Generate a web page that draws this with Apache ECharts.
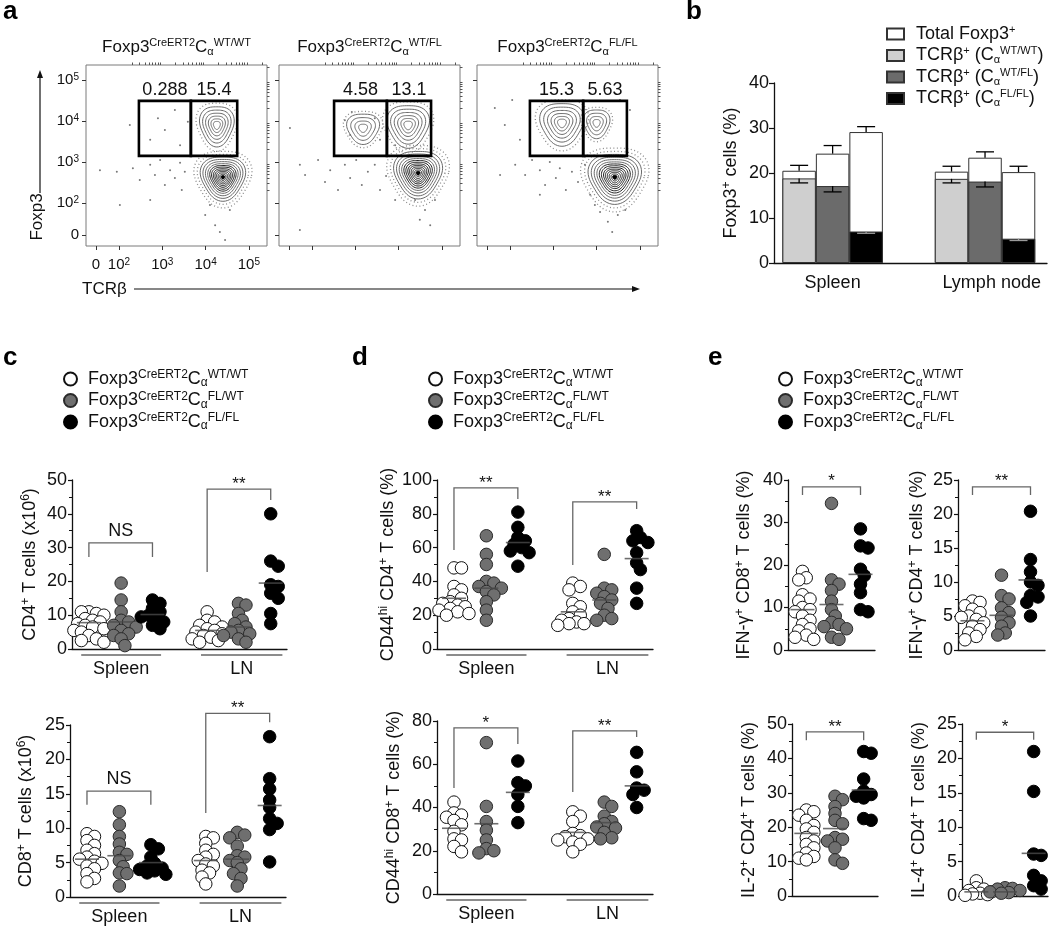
<!DOCTYPE html>
<html><head><meta charset="utf-8">
<script src="https://cdn.jsdelivr.net/npm/echarts@6/dist/echarts.min.js"></script>
<style>html,body{margin:0;padding:0;background:#fff}#c{width:1050px;height:926px}</style>
</head><body><div id="c"></div>
<script>
// ---------------- DATA ----------------
// Panel a (flow cytometry, axes in log-decade units)
const aTitles = ['WT/WT', 'WT/FL', 'FL/FL'];
const aGateValues = [['0.288', '15.4'], ['4.58', '13.1'], ['15.3', '5.63']];
const aGateX = [[2.46, 3.66, 4.73], [2.51, 3.73, 4.75], [2.46, 3.69, 4.70]];
const aGateY = [3.15, 4.49];
const aXTickLabels = ['0', '10{s|2}', '10{s|3}', '10{s|4}', '10{s|5}'];
const aYTickLabels = ['0', '10{s|2}', '10{s|3}', '10{s|4}', '10{s|5}'];
// populations: [centerX, centerY, radiusX, radiusY, ringSet]
const aPopWTWT = [[4.40, 2.63, 0.51, 0.54, 0], [4.26, 3.90, 0.39, 0.49, 1]];
const aPopWTFL = [[4.45, 2.73, 0.55, 0.58, 0], [4.22, 3.90, 0.48, 0.52, 1], [3.18, 3.83, 0.37, 0.37, 2]];
const aPopFLFL = [[4.42, 2.63, 0.60, 0.61, 0], [3.20, 3.95, 0.50, 0.52, 1], [4.00, 3.95, 0.30, 0.35, 2]];
const aEventsWTWT = [[1.56,2.80],[1.95,2.76],[2.32,2.85],[2.48,2.56],[2.72,2.93],[2.83,2.68],[2.95,3.05],[3.06,2.44],[3.18,2.80],[3.29,2.61],[3.41,2.98],[3.45,2.32],[3.52,2.76],[2.25,3.90],[2.72,3.54],[2.90,4.07],[3.06,3.78],[3.29,4.27],[3.41,3.41],[3.59,3.98],[3.99,1.71],[4.22,1.46],[4.33,1.29],[4.45,1.10],[4.10,1.95],[4.56,1.83],[2.72,2.07],[2.02,1.95]];
const aEventsWTFL = [[1.49,3.83],[1.72,2.93],[1.84,2.68],[2.14,3.05],[2.30,2.51],[2.42,2.80],[2.60,2.32],[2.76,2.93],[2.88,2.61],[3.02,3.05],[3.15,2.44],[3.29,2.76],[3.45,2.93],[3.57,2.32],[3.71,2.66],[2.76,4.02],[2.88,3.66],[2.92,4.22],[3.45,4.07],[3.57,3.54],[3.92,3.41],[4.61,1.83],[4.49,1.59],[4.73,1.46],[4.38,2.07],[4.84,2.07],[1.72,1.34],[3.92,2.07]];
const aEventsFLFL = [[1.65,4.32],[1.88,3.90],[2.05,4.51],[2.23,3.54],[2.12,2.93],[2.35,2.68],[2.51,3.05],[2.69,2.80],[2.81,2.44],[2.92,3.00],[3.06,2.61],[3.15,2.85],[3.29,2.32],[3.43,2.76],[3.57,2.51],[3.73,2.93],[3.85,2.20],[2.69,2.20],[4.08,1.78],[4.26,1.54],[4.36,1.29],[4.49,1.71],[3.96,1.95],[4.66,1.83],[1.77,2.68],[4.54,4.51],[4.77,4.27]];

// Panel b
const bCategories = ['Spleen', 'Lymph node'];
const bTotal    = [20.5, 24.3, 29.1, 20.3, 23.4, 20.2];
const bTotalSem = [1.2, 1.8, 1.2, 1.2, 1.3, 1.3];
const bTcr      = [18.8, 17.1, 7.0, 18.7, 18.1, 5.4];
const bTcrSem   = [1.0, 1.3, 0.4, 0.9, 1.2, 0.4];

// Panels c-e (groups: Spleen WT/WT, FL/WT, FL/FL, LN WT/WT, FL/WT, FL/FL)
const GENO = ['WT/WT', 'FL/WT', 'FL/FL'];
const SITES = ['Spleen', 'LN'];
const cCD4 = [
  [11, 10.5, 11, 10, 9, 8.5, 8, 7.5, 7, 6.5, 6, 5.5, 5, 4, 3, 2.5, 2],
  [19.5, 14.5, 11, 8.5, 8, 7, 6.5, 5.5, 4.5, 4, 3, 1],
  [14.5, 13.5, 12, 11, 10, 9.5, 9, 8, 7, 6],
  [11, 8.5, 8, 7, 6.5, 6, 5.5, 5, 4.5, 4, 3.5, 3, 2.5, 2],
  [13.5, 13, 10.5, 8.5, 7.5, 6.5, 5.5, 5, 4.5, 4, 3, 2],
  [40, 26, 24.5, 19, 18.5, 16.5, 15, 10.5, 7.5]];
const cCD4Means = [7.8, 8, 10.2, 5.5, 6.5, 19.5];
const cCD4Brackets = [[0, 2, 31.4, 27.2, 27.2, 'NS'], [3, 5, 47.3, 22.8, 44.1, '**']];
const cCD8 = [
  [9.2, 8.8, 8.2, 7.5, 6.8, 6.3, 5.8, 5.5, 5.2, 4.9, 4.5, 4.1, 3.4, 2.7, 2.2],
  [12.4, 10.5, 8.8, 7.7, 6.5, 6.2, 5.3, 4.4, 3.5, 3.4, 1.6],
  [7.6, 7.0, 5.8, 4.9, 4.5, 4.2, 4.0, 3.8, 3.5, 3.3],
  [8.8, 8.6, 7.8, 6.8, 6.2, 5.8, 5.3, 4.8, 4.5, 3.9, 3.5, 2.9, 1.9],
  [9.4, 9.0, 8.6, 7.4, 6.0, 5.8, 5.3, 5.0, 4.1, 3.4, 2.7, 1.6],
  [23.3, 17.2, 15.7, 14.1, 13.0, 11.4, 10.7, 9.8, 5.1]];
const cCD8Means = [5.5, 6.0, 5.0, 5.3, 5.5, 13.3];
const cCD8Brackets = [[0, 2, 15.4, 13.4, 13.4, 'NS'], [3, 5, 26.7, 12.2, 25.4, '**']];
const dCD4 = [
  [48, 48, 37, 35, 32, 30, 28, 27, 26, 25, 24, 23, 22, 21, 20],
  [67, 56, 50, 40, 39, 37, 36, 34, 32, 28, 23, 17],
  [81, 72, 66, 64, 62, 60, 58, 57, 49],
  [39, 37, 35, 27, 25, 22, 20, 18, 17, 16, 15, 15, 14],
  [56, 36, 35, 33, 31, 29, 27, 24, 20, 18, 17],
  [70, 66, 64, 63, 57, 51, 47, 36, 27]];
const dCD4Means = [30, 36, 63, 22, 29, 53.5];
const dCD4Brackets = [[0, 2, 95.3, 58.6, 88.8, '**'], [3, 5, 87, 49.7, 82.8, '**']];
const dCD8 = [
  [42.5, 37.5, 36.5, 35.5, 34, 32, 29, 25.5, 25, 22, 19.5],
  [70, 40.5, 33.5, 29.5, 25, 21, 20, 19],
  [61.5, 51.5, 50, 46, 40.5, 33],
  [38, 36, 33.5, 28, 27, 26.5, 25.5, 25, 24, 23, 19.5],
  [42.5, 40.5, 36, 33.5, 32.5, 31, 30.5, 28.5, 26, 25.5],
  [65.5, 56.5, 49, 48, 46, 40]];
const dCD8Means = [30.4, 32.5, 47, 28.5, 33, 50];
const dCD8Brackets = [[0, 2, 76.8, 49.0, 69.4, '*'], [3, 5, 75.4, 47.2, 72.6, '**']];
const eIfnCD8 = [
  [18.5, 17, 16.5, 13, 12, 11.5, 10, 9.5, 9, 8, 7, 6, 5, 4.5, 3.5, 3, 2.5],
  [34.5, 16.5, 15.5, 14, 11.5, 9.5, 8, 6.5, 6, 5.5, 5, 3, 2.5],
  [28.5, 24.5, 24, 19, 17.5, 15.5, 13.5, 9.5, 9]];
const eIfnCD8Means = [9.5, 10.7, 17.8];
const eIfnCD8Brackets = [[0, 2, 38.4, 36.5, 36.5, '*']];
const eIfnCD4 = [
  [7.2, 7, 6.5, 6, 5.5, 5, 4.8, 4.5, 4, 3.5, 3, 2.5, 2, 1.5],
  [11, 8, 7.5, 6.2, 5.5, 4.8, 4, 3.5, 2.5, 2.2],
  [20.4, 13.3, 11.5, 10, 9.5, 8, 7.8, 7, 5]];
const eIfnCD4Means = [4.3, 5.1, 10.3];
const eIfnCD4Brackets = [[0, 2, 24.0, 22.8, 22.8, '**']];
const eIl2 = [
  [25, 24.5, 23.5, 22, 20.5, 19.5, 18.5, 17, 16, 15, 14, 12.5, 11.5, 11, 10.5],
  [29, 28, 26, 24, 22, 21, 17, 16.5, 16, 14, 10.5, 9.5],
  [42, 41.5, 34, 30.5, 29.5, 29, 28.5, 22.5, 22]];
const eIl2Means = [18.2, 19.6, 30.8];
const eIl2Brackets = [[0, 2, 47.7, 45.3, 45.3, '**']];
const eIl4 = [
  [2.2, 1.2, 1.0, 0.8, 0.6, 0.5, 0.4, 0.3, 0.2, 0.1],
  [1.2, 1.1, 1.0, 0.8, 0.6, 0.5, 0.4],
  [21, 15.2, 6.1, 5.9, 3, 2.2, 1.5, 1.0]];
const eIl4Means = [0.6, 0.6, 6.2];
const eIl4Brackets = [[0, 2, 23.8, 22.7, 22.7, '*']];

// ---------------- LAYOUT / STYLE ----------------
const FONT = "'Liberation Sans', Arial, Helvetica, sans-serif";
const INK = '#111';
function richSet(sz) {
  return {
    sup: {fontSize: sz, lineHeight: sz, verticalAlign: 'top', fontFamily: FONT, color: INK},
    sub: {fontSize: sz, lineHeight: sz, verticalAlign: 'bottom', fontFamily: FONT, color: INK},
    s: {fontSize: sz, lineHeight: sz, verticalAlign: 'top', fontFamily: FONT, color: INK}
  };
}
const FLOW_LEFT = [86, 279, 477];
const FLOW_TOP = 65, FLOW_SIZE = 181;
const FLOW_XRANGE = [1.238, 5.418], FLOW_YRANGE = [0.951, 5.366];
const FLOW_XTICKS = [1.47, 2, 3, 4, 5];
const FLOW_YTICKS = [1.22, 2, 3, 4, 5];
const RING_SETS = [
  [[1.28,3],[1.13,3],[1,0],[0.88,0],[0.77,0],[0.67,0],[0.58,1],[0.5,1],[0.42,1],[0.35,1],[0.28,1],[0.21,1],[0.14,1],[0.08,2]],
  [[1.2,3],[1,0],[0.82,0],[0.65,0],[0.49,0],[0.34,0],[0.2,0]],
  [[1.2,3],[1,0],[0.75,0],[0.5,0],[0.27,0]]
];
const GENO_STYLE = [
  {color: '#ffffff', borderColor: '#111'},
  {color: '#6f6f6f', borderColor: '#2a2a2a'},
  {color: '#000000', borderColor: '#000'}
];
const SYM = 12.5;
const X6 = [0.55, 1.6, 2.62, 4.4, 5.42, 6.47];
const X3 = [0.5, 1.5, 2.5];
const SITE_SPAN = [[0.3, 2.9], [4.2, 6.85]];
const B_X = [0.75, 1.75, 2.75, 5.3, 6.3, 7.3];
const B_COLORS = ['#cfcfcf', '#6b6b6b', '#000000'];

function minorLog(maxV) {
  const out = [];
  for (let k = 2; k <= 5; k++) for (let m = 2; m <= 9; m++) {
    const v = k + Math.log10(m);
    if (v < maxV) out.push(v);
  }
  return out;
}

const opt = {
  animation: false, backgroundColor: '#fff',
  textStyle: {fontFamily: FONT},
  grid: [], xAxis: [], yAxis: [], series: [], legend: [], graphic: []
};

// ---------- Panel a ----------
const aPops = [aPopWTWT, aPopWTFL, aPopFLFL];
const aEvents = [aEventsWTWT, aEventsWTFL, aEventsFLFL];
function flowLabel(labels, ticks) {
  return v => {
    for (let i = 0; i < ticks.length; i++) if (Math.abs(ticks[i] - v) < 0.01) return labels[i];
    return '';
  };
}
function contourItem(params, api) {
  const c = api.coord([api.value(0), api.value(1)]);
  const s = api.size([api.value(2), api.value(3)]);
  const k = api.value(4), tone = api.value(5);
  const pts = [];
  for (let j = 0; j < 64; j++) {
    const t = j / 64 * Math.PI * 2;
    const r = k * (1 + 0.09 * Math.cos(3 * t + Math.PI / 2));
    pts.push([c[0] + s[0] * r * Math.cos(t), c[1] + s[1] * r * Math.sin(t)]);
  }
  let st;
  if (tone === 2) st = {fill: '#000', stroke: '#000', lineWidth: 1};
  else if (tone === 3) st = {fill: 'none', stroke: '#8a8a8a', lineWidth: 1.3, lineDash: [1, 2.5]};
  else st = {fill: 'none', stroke: tone === 1 ? '#222' : '#6a6a6a', lineWidth: 1};
  return {type: 'polygon', shape: {points: pts}, style: st};
}
for (let i = 0; i < 3; i++) {
  const gi = opt.grid.length;
  opt.grid.push({left: FLOW_LEFT[i], top: FLOW_TOP, width: FLOW_SIZE, height: FLOW_SIZE,
    show: true, borderColor: '#7a7a7a', borderWidth: 1, backgroundColor: 'rgba(0,0,0,0)'});
  const xi = opt.xAxis.length, yi = opt.yAxis.length;
  opt.xAxis.push({type: 'value', gridIndex: gi, min: FLOW_XRANGE[0], max: FLOW_XRANGE[1],
    axisLine: {show: false}, splitLine: {show: false},
    axisTick: {show: true, customValues: FLOW_XTICKS, length: 4, lineStyle: {color: '#333'}},
    axisLabel: {show: i === 0, customValues: FLOW_XTICKS, formatter: flowLabel(aXTickLabels, FLOW_XTICKS),
      fontSize: 15, fontFamily: FONT, color: INK, margin: 11, rich: richSet(10)}});
  opt.xAxis.push({type: 'value', gridIndex: gi, min: FLOW_XRANGE[0], max: FLOW_XRANGE[1],
    axisLine: {show: false}, splitLine: {show: false}, axisLabel: {show: false},
    axisTick: {show: true, customValues: minorLog(FLOW_XRANGE[1]), length: 2.5, lineStyle: {color: '#555'}}});
  opt.yAxis.push({type: 'value', gridIndex: gi, min: FLOW_YRANGE[0], max: FLOW_YRANGE[1],
    axisLine: {show: false}, splitLine: {show: false},
    axisTick: {show: true, customValues: FLOW_YTICKS, length: 4, lineStyle: {color: '#333'}},
    axisLabel: {show: i === 0, customValues: FLOW_YTICKS, formatter: flowLabel(aYTickLabels, FLOW_YTICKS),
      fontSize: 15, fontFamily: FONT, color: INK, margin: 7, rich: richSet(10)}});
  opt.yAxis.push({type: 'value', gridIndex: gi, min: FLOW_YRANGE[0], max: FLOW_YRANGE[1],
    axisLine: {show: false}, splitLine: {show: false}, axisLabel: {show: false},
    axisTick: {show: true, customValues: minorLog(FLOW_YRANGE[1]), length: 2.5, lineStyle: {color: '#555'}}});
  opt.series.push({type: 'scatter', xAxisIndex: xi, yAxisIndex: yi, data: aEvents[i], symbolSize: 2,
    itemStyle: {color: '#555'}, silent: true, z: 1});
  const rings = [];
  aPops[i].forEach(p => RING_SETS[p[4]].forEach(r => rings.push([p[0], p[1], p[2], p[3], r[0], r[1]])));
  opt.series.push({type: 'custom', xAxisIndex: xi, yAxisIndex: yi, data: rings, renderItem: contourItem,
    clip: true, silent: true, z: 2});
  const labels = aGateValues[i];
  const gx = aGateX[i];
  opt.series.push({type: 'custom', xAxisIndex: xi, yAxisIndex: yi, clip: false, silent: true, z: 4,
    data: [[gx[0], gx[1], aGateY[0], aGateY[1]], [gx[1], gx[2], aGateY[0], aGateY[1]]],
    renderItem: (params, api) => {
      const p1 = api.coord([api.value(0), api.value(3)]);
      const p2 = api.coord([api.value(1), api.value(2)]);
      return {type: 'group', children: [
        {type: 'rect', shape: {x: p1[0], y: p1[1], width: p2[0] - p1[0], height: p2[1] - p1[1]},
          style: {fill: 'none', stroke: '#000', lineWidth: 2.6}},
        {type: 'text', style: {x: (p1[0] + p2[0]) / 2, y: p1[1] - 11, text: labels[params.dataIndex],
          align: 'center', verticalAlign: 'middle', fontSize: 18, fontFamily: FONT, fill: INK}}
      ]};
    }});
  opt.graphic.push({type: 'text', x: FLOW_LEFT[i] + FLOW_SIZE / 2, y: 47, silent: true,
    style: {text: 'Foxp3{sup|CreERT2}C{sub|α}{sup|' + aTitles[i] + '}', align: 'center', verticalAlign: 'middle',
      fontSize: 17, lineHeight: 20, fontFamily: FONT, fill: INK, rich: richSet(11)}});
}
opt.graphic.push(
  {type: 'text', x: 37, y: 217, rotation: Math.PI / 2, silent: true,
    style: {text: 'Foxp3', align: 'center', verticalAlign: 'middle', fontSize: 17, fontFamily: FONT, fill: INK}},
  {type: 'line', silent: true, shape: {x1: 40, y1: 193, x2: 40, y2: 76}, style: {stroke: INK, lineWidth: 1.2}},
  {type: 'polygon', silent: true, shape: {points: [[37, 78], [43, 78], [40, 70]]}, style: {fill: INK}},
  {type: 'text', x: 82, y: 289, silent: true,
    style: {text: 'TCRβ', align: 'left', verticalAlign: 'middle', fontSize: 17, fontFamily: FONT, fill: INK}},
  {type: 'line', silent: true, shape: {x1: 134, y1: 289, x2: 634, y2: 289}, style: {stroke: INK, lineWidth: 1.2}},
  {type: 'polygon', silent: true, shape: {points: [[632, 286], [632, 292], [640, 289]]}, style: {fill: INK}}
);

// ---------- Panel b ----------
{
  const gi = opt.grid.length;
  opt.grid.push({left: 774, top: 83, width: 273, height: 180});
  const xi = opt.xAxis.length, yi = opt.yAxis.length;
  opt.xAxis.push({type: 'value', gridIndex: gi, min: 0, max: 8.15, splitLine: {show: false},
    axisLine: {show: true, lineStyle: {color: INK, width: 1.3}}, axisTick: {show: false},
    axisLabel: {customValues: [(B_X[0] + B_X[2]) / 2, (B_X[3] + B_X[5]) / 2 + 0.2],
      formatter: v => (v < 4 ? bCategories[0] : bCategories[1]), fontSize: 18, fontFamily: FONT, color: INK, margin: 11}});
  opt.yAxis.push({type: 'value', gridIndex: gi, min: 0, max: 40, interval: 10, splitLine: {show: false},
    axisLine: {show: true, lineStyle: {color: INK, width: 1.3}},
    axisTick: {show: true, length: 5, lineStyle: {color: INK, width: 1.2}},
    axisLabel: {fontSize: 18, fontFamily: FONT, color: INK, margin: 5},
    name: 'Foxp3{sup|+} cells (%)', nameLocation: 'middle', nameRotate: 90, nameGap: 33,
    nameTextStyle: {fontSize: 18, fontFamily: FONT, color: INK, lineHeight: 20, rich: richSet(12)}});
  opt.series.push({type: 'bar', name: 'bTotal', xAxisIndex: xi, yAxisIndex: yi, barWidth: 33.5, barGap: '-100%',
    data: B_X.map((x, k) => [x, bTotal[k]]), itemStyle: {color: '#fff', borderColor: '#333', borderWidth: 1}, z: 2});
  ['bWTWT', 'bWTFL', 'bFLFL'].forEach((nm, g) => {
    opt.series.push({type: 'bar', name: nm, xAxisIndex: xi, yAxisIndex: yi, barWidth: 33.5, barGap: '-100%',
      data: [[B_X[g], bTcr[g]], [B_X[g + 3], bTcr[g + 3]]],
      itemStyle: {color: B_COLORS[g], borderColor: '#333', borderWidth: 1}, z: 3});
  });
  const err = [];
  B_X.forEach((x, k) => {
    err.push([x, bTotal[k], bTotal[k] + bTotalSem[k], 0]);
    err.push([x, bTcr[k], bTcr[k] - bTcrSem[k], k % 3 === 2 ? 1 : 0]);
  });
  opt.series.push({type: 'custom', xAxisIndex: xi, yAxisIndex: yi, data: err, clip: false, silent: true, z: 5,
    renderItem: (params, api) => {
      const p1 = api.coord([api.value(0), api.value(1)]);
      const p2 = api.coord([api.value(0), api.value(2)]);
      const col = api.value(3) === 1 ? '#9a9a9a' : '#000';
      return {type: 'group', children: [
        {type: 'line', shape: {x1: p1[0], y1: p1[1], x2: p2[0], y2: p2[1]}, style: {stroke: col, lineWidth: 1.3}},
        {type: 'line', shape: {x1: p2[0] - 9, y1: p2[1], x2: p2[0] + 9, y2: p2[1]}, style: {stroke: col, lineWidth: 1.3}}
      ]};
    }});
  const bNames = {
    bTotal: 'Total Foxp3{sup|+}',
    bWTWT: 'TCRβ{sup|+} (C{sub|α}{sup|WT/WT})',
    bWTFL: 'TCRβ{sup|+} (C{sub|α}{sup|WT/FL})',
    bFLFL: 'TCRβ{sup|+} (C{sub|α}{sup|FL/FL})'
  };
  opt.legend.push({left: 881, top: 19, orient: 'vertical', icon: 'rect', itemWidth: 17, itemHeight: 11, itemGap: 1.5,
    selectedMode: false, data: ['bTotal', 'bWTWT', 'bWTFL', 'bFLFL'], formatter: n => bNames[n],
    textStyle: {fontSize: 18, fontFamily: FONT, color: INK, lineHeight: 20, padding: [0, 0, 0, 7], rich: richSet(11)}});
}

// ---------- Panels c, d, e ----------
function swarm(vals, cx, pxX, pxY) {
  const placed = [], out = [];
  const minD = SYM * 0.55;
  vals.forEach(v => {
    const py = v * pxY;
    let best = null, bestScore = -1;
    for (let k = 0; k < 9; k++) {
      const off = (k % 2 === 1 ? 1 : -1) * Math.ceil(k / 2) * SYM * 0.3;
      let dmin = Infinity;
      placed.forEach(p => { dmin = Math.min(dmin, Math.hypot(p[0] - off, p[1] - py)); });
      if (dmin >= minD) { best = off; break; }
      if (dmin > bestScore) { bestScore = dmin; best = off; }
    }
    placed.push([best, py]);
    out.push([cx + best / pxX, v]);
  });
  return out;
}
function addScatter(lay, values, means, brackets, yname, withSites) {
  const gi = opt.grid.length;
  opt.grid.push({left: lay.left, top: lay.top, width: lay.width, height: lay.height});
  const xi = opt.xAxis.length, yi = opt.yAxis.length;
  opt.xAxis.push({type: 'value', gridIndex: gi, min: 0, max: lay.xmax, splitLine: {show: false},
    axisLine: {show: true, onZero: false, lineStyle: {color: INK, width: 1.3}}, axisTick: {show: false}, axisLabel: {show: false}});
  opt.yAxis.push({type: 'value', gridIndex: gi, min: 0, max: lay.ymax, interval: lay.interval,
    splitLine: {show: false}, minorSplitLine: {show: false},
    axisLine: {show: true, lineStyle: {color: INK, width: 1.3}},
    axisTick: {show: true, length: 4, lineStyle: {color: INK, width: 1.2}},
    minorTick: {show: true, splitNumber: 2, length: 3, lineStyle: {color: INK, width: 1}},
    axisLabel: {fontSize: 18, fontFamily: FONT, color: INK, margin: 5},
    name: yname, nameLocation: 'middle', nameRotate: 90, nameGap: lay.nameGap,
    nameTextStyle: {fontSize: 18, fontFamily: FONT, color: INK, lineHeight: 20, rich: richSet(12)}});
  const pxX = lay.width / lay.xmax, pxY = lay.height / lay.ymax;
  for (let g = 0; g < 3; g++) {
    const data = [];
    values.forEach((vals, k) => { if (k % 3 === g) swarm(vals, lay.xpos[k], pxX, pxY).forEach(d => data.push(d)); });
    opt.series.push({type: 'scatter', name: GENO[g], xAxisIndex: xi, yAxisIndex: yi, data, symbol: 'circle',
      symbolSize: SYM, itemStyle: Object.assign({borderWidth: 1, opacity: 1}, GENO_STYLE[g]), z: 3, silent: true});
  }
  opt.series.push({type: 'scatter', xAxisIndex: xi, yAxisIndex: yi, data: means.map((m, k) => [lay.xpos[k], m]),
    symbol: 'rect', symbolSize: [24, 1.6], itemStyle: {color: '#4a4a4a'}, z: 5, silent: true});
  opt.series.push({type: 'custom', xAxisIndex: xi, yAxisIndex: yi, clip: false, silent: true, z: 6,
    data: brackets.map(b => [lay.xpos[b[0]], b[2], lay.xpos[b[1]], b[3], b[4]]),
    renderItem: (params, api) => {
      const lab = brackets[params.dataIndex][5];
      const x1 = api.value(0), yt = api.value(1), x2 = api.value(2);
      const pL = api.coord([x1, api.value(3)]), pT1 = api.coord([x1, yt]);
      const pT2 = api.coord([x2, yt]), pR = api.coord([x2, api.value(4)]);
      const ns = lab === 'NS';
      return {type: 'group', children: [
        {type: 'polyline', shape: {points: [pL, pT1, pT2, pR]}, style: {stroke: '#666', lineWidth: 1.3, fill: 'none'}},
        {type: 'text', style: {x: (pT1[0] + pT2[0]) / 2, y: pT1[1] - (ns ? 12 : 5), text: lab, align: 'center',
          verticalAlign: 'middle', fontSize: ns ? 18 : 17, fontFamily: FONT, fill: INK}}
      ]};
    }});
  if (withSites) {
    opt.series.push({type: 'custom', xAxisIndex: xi, yAxisIndex: yi, clip: false, silent: true, z: 6,
      data: SITE_SPAN.map(s => [s[0], 0, s[1]]),
      renderItem: (params, api) => {
        const p1 = api.coord([api.value(0), 0]), p2 = api.coord([api.value(2), 0]);
        return {type: 'group', children: [
          {type: 'line', shape: {x1: p1[0], y1: p1[1] + 6, x2: p2[0], y2: p2[1] + 6}, style: {stroke: '#666', lineWidth: 1.3}},
          {type: 'text', style: {x: (p1[0] + p2[0]) / 2, y: p1[1] + 20, text: SITES[params.dataIndex], align: 'center',
            verticalAlign: 'middle', fontSize: 18, fontFamily: FONT, fill: INK}}
        ]};
      }});
  }
}
addScatter({left: 72, top: 480, width: 215, height: 169, ymax: 50, interval: 10, xmax: 7, xpos: X6, nameGap: 32},
  cCD4, cCD4Means, cCD4Brackets, 'CD4{sup|+} T cells (x10{sup|6})', true);
addScatter({left: 70, top: 725, width: 216, height: 172, ymax: 25, interval: 5, xmax: 7, xpos: X6, nameGap: 34},
  cCD8, cCD8Means, cCD8Brackets, 'CD8{sup|+} T cells (x10{sup|6})', true);
addScatter({left: 437, top: 480, width: 216, height: 169, ymax: 100, interval: 20, xmax: 7, xpos: X6, nameGap: 33},
  dCD4, dCD4Means, dCD4Brackets, 'CD44{sup|hi} CD4{sup|+} T cells (%)', true);
addScatter({left: 437, top: 721, width: 216, height: 173, ymax: 80, interval: 20, xmax: 7, xpos: X6, nameGap: 33},
  dCD8, dCD8Means, dCD8Brackets, 'CD44{sup|hi} CD8{sup|+} T cells (%)', true);
addScatter({left: 788, top: 480, width: 87, height: 170, ymax: 40, interval: 10, xmax: 3, xpos: X3, nameGap: 34},
  eIfnCD8, eIfnCD8Means, eIfnCD8Brackets, 'IFN-γ{sup|+} CD8{sup|+} T cells (%)', false);
addScatter({left: 958, top: 480, width: 87, height: 170, ymax: 25, interval: 5, xmax: 3, xpos: X3, nameGap: 31},
  eIfnCD4, eIfnCD4Means, eIfnCD4Brackets, 'IFN-γ{sup|+} CD4{sup|+} T cells (%)', false);
addScatter({left: 792, top: 724, width: 86, height: 172, ymax: 50, interval: 10, xmax: 3, xpos: X3, nameGap: 33},
  eIl2, eIl2Means, eIl2Brackets, 'IL-2{sup|+} CD4{sup|+} T cells (%)', false);
addScatter({left: 962, top: 724, width: 86, height: 172, ymax: 25, interval: 5, xmax: 3, xpos: X3, nameGap: 33},
  eIl4, eIl4Means, eIl4Brackets, 'IL-4{sup|+} CD4{sup|+} T cells (%)', false);

[58, 423, 773].forEach(lx => {
  opt.legend.push({left: lx, top: 364, orient: 'vertical', icon: 'circle', itemWidth: 13, itemHeight: 13, itemGap: 1.5,
    selectedMode: false, data: GENO,
    formatter: n => 'Foxp3{sup|CreERT2}C{sub|α}{sup|' + n + '}',
    textStyle: {fontSize: 18, fontFamily: FONT, color: INK, lineHeight: 20, padding: [0, 0, 0, 6], rich: richSet(12)}});
});

// panel letters
[['a', 3, 12], ['b', 686, 12], ['c', 3, 358], ['d', 352, 358], ['e', 708, 358]].forEach(l => {
  opt.graphic.push({type: 'text', x: l[1], y: l[2], silent: true,
    style: {text: l[0], align: 'left', verticalAlign: 'middle', fontSize: 26, fontWeight: 'bold', fontFamily: FONT, fill: '#000'}});
});

const chart = echarts.init(document.getElementById('c'), null, {renderer: 'canvas', width: 1050, height: 926});
chart.setOption(opt);
</script></body></html>
